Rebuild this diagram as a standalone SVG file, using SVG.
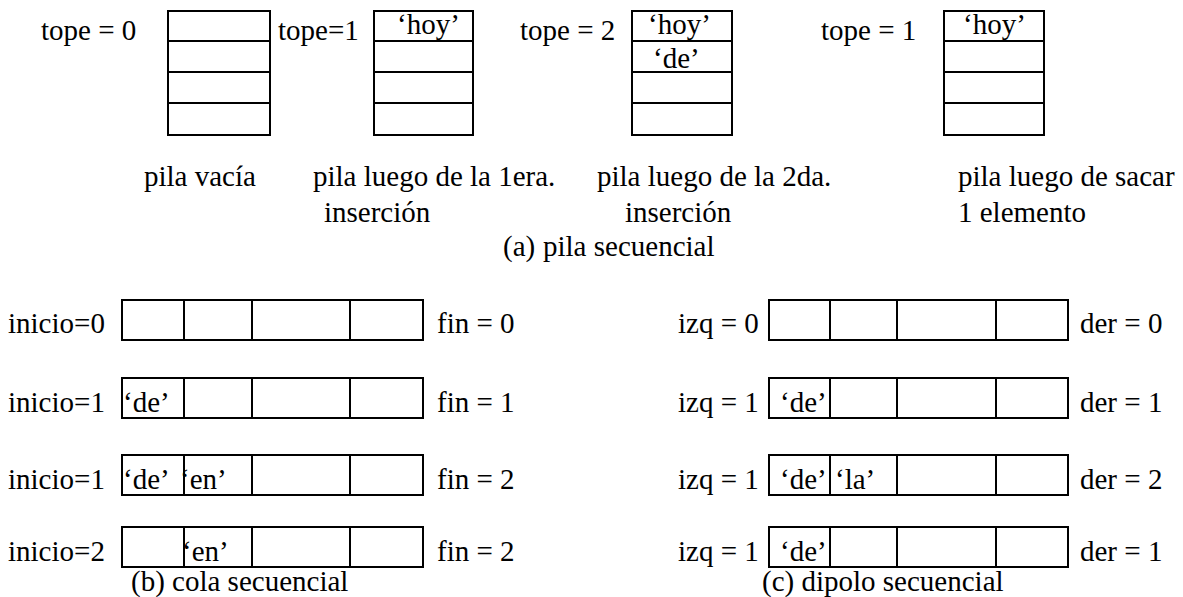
<svg xmlns="http://www.w3.org/2000/svg" width="1183" height="597" viewBox="0 0 1183 597">
  <style>
    text { font-family: Liberation Serif, DejaVu Serif, serif; font-size: 29px; fill: #000; }
    .box { fill: none; stroke: #000; stroke-width: 2; }
    .div { stroke: #000; stroke-width: 2; }
  </style>
  <rect width="1183" height="597" fill="#fff"/>

  <!-- (a) sequential stack: four states -->
  <g id="stack-empty">
    <text x="41" y="40">tope = 0</text>
    <rect class="box" x="168" y="11" width="102" height="124"/>
    <line class="div" x1="168" y1="41" x2="270" y2="41"/>
    <line class="div" x1="168" y1="72" x2="270" y2="72"/>
    <line class="div" x1="168" y1="103" x2="270" y2="103"/>
    <text x="144" y="186">pila vacía</text>
  </g>

  <g id="stack-push1">
    <text x="278" y="40">tope=1</text>
    <rect class="box" x="374" y="11" width="99" height="124"/>
    <line class="div" x1="374" y1="41" x2="473" y2="41"/>
    <line class="div" x1="374" y1="72" x2="473" y2="72"/>
    <line class="div" x1="374" y1="103" x2="473" y2="103"/>
    <text x="397" y="34">‘hoy’</text>
    <text x="313" y="186">pila luego de la 1era.</text>
    <text x="324" y="222">inserción</text>
  </g>

  <g id="stack-push2">
    <text x="520" y="40">tope = 2</text>
    <rect class="box" x="632" y="11" width="100" height="124"/>
    <line class="div" x1="632" y1="41" x2="732" y2="41"/>
    <line class="div" x1="632" y1="72" x2="732" y2="72"/>
    <line class="div" x1="632" y1="103" x2="732" y2="103"/>
    <text x="648" y="34">‘hoy’</text>
    <text x="653" y="68">‘de’</text>
    <text x="597" y="186">pila luego de la 2da.</text>
    <text x="625" y="222">inserción</text>
  </g>

  <g id="stack-pop">
    <text x="821" y="40">tope = 1</text>
    <rect class="box" x="944" y="11" width="100" height="124"/>
    <line class="div" x1="944" y1="41" x2="1044" y2="41"/>
    <line class="div" x1="944" y1="72" x2="1044" y2="72"/>
    <line class="div" x1="944" y1="103" x2="1044" y2="103"/>
    <text x="963" y="34">‘hoy’</text>
    <text x="958" y="186">pila luego de sacar</text>
    <text x="958" y="222">1 elemento</text>
  </g>

  <g id="caption-a">
    <text x="503" y="256">(a)</text>
    <text x="543" y="256">pila secuencial</text>
  </g>

  <!-- one row of four cells, reused by the queue and the deque -->
  <defs>
    <g id="qrow">
      <rect class="box" x="122" y="0" width="301" height="40"/>
      <line class="div" x1="184" y1="0" x2="184" y2="40"/>
      <line class="div" x1="252" y1="0" x2="252" y2="40"/>
      <line class="div" x1="350" y1="0" x2="350" y2="40"/>
    </g>
    <g id="drow">
      <rect class="box" x="769" y="0" width="299" height="40"/>
      <line class="div" x1="830" y1="0" x2="830" y2="40"/>
      <line class="div" x1="897" y1="0" x2="897" y2="40"/>
      <line class="div" x1="996" y1="0" x2="996" y2="40"/>
    </g>
  </defs>

  <!-- (b) sequential queue -->
  <g id="queue-row1">
    <text x="8" y="333">inicio=0</text>
    <use href="#qrow" y="300"/>
    <text x="437" y="333">fin = 0</text>
  </g>
  <g id="queue-row2">
    <text x="8" y="412">inicio=1</text>
    <use href="#qrow" y="378"/>
    <text x="123" y="412">‘de’</text>
    <text x="437" y="412">fin = 1</text>
  </g>
  <g id="queue-row3">
    <text x="8" y="489">inicio=1</text>
    <use href="#qrow" y="455"/>
    <text x="123" y="489">‘de’</text>
    <text x="180" y="489">‘en’</text>
    <text x="437" y="489">fin = 2</text>
  </g>
  <g id="queue-row4">
    <text x="8" y="561">inicio=2</text>
    <use href="#qrow" y="527"/>
    <text x="182" y="561">‘en’</text>
    <text x="437" y="561">fin = 2</text>
  </g>
  <text id="caption-b" x="131" y="591">(b) cola secuencial</text>

  <!-- (c) sequential deque -->
  <g id="deque-row1">
    <text x="678" y="333">izq = 0</text>
    <use href="#drow" y="300"/>
    <text x="1080" y="333">der = 0</text>
  </g>
  <g id="deque-row2">
    <text x="678" y="412">izq = 1</text>
    <use href="#drow" y="378"/>
    <text x="780" y="412">‘de’</text>
    <text x="1080" y="412">der = 1</text>
  </g>
  <g id="deque-row3">
    <text x="678" y="489">izq = 1</text>
    <use href="#drow" y="455"/>
    <text x="780" y="489">‘de’</text>
    <text x="835" y="489">‘la’</text>
    <text x="1080" y="489">der = 2</text>
  </g>
  <g id="deque-row4">
    <text x="678" y="561">izq = 1</text>
    <use href="#drow" y="527"/>
    <text x="780" y="561">‘de’</text>
    <text x="1080" y="561">der = 1</text>
  </g>
  <text id="caption-c" x="762" y="591">(c) dipolo secuencial</text>
</svg>
